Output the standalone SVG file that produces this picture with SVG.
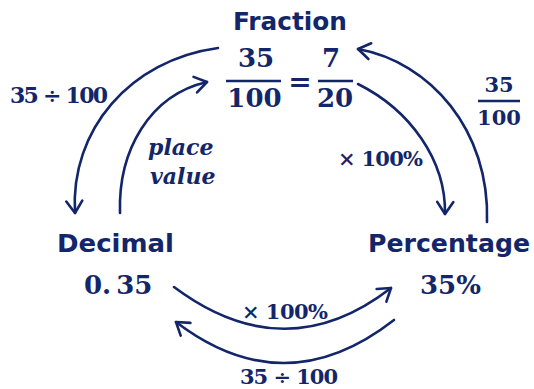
<svg xmlns="http://www.w3.org/2000/svg" width="534" height="389" viewBox="0 0 534 389">
<style>
.h{font-family:"DejaVu Sans","Liberation Sans",sans-serif;font-weight:bold;font-size:25px;fill:#13266a}
.m{font-family:"DejaVu Serif","Liberation Serif",serif;font-weight:bold;fill:#13266a}
.it{font-style:italic}
.c{fill:none;stroke:#13266a;stroke-width:2.6;stroke-linecap:round}
.bar{stroke:#13266a;stroke-width:2.6}
</style>
<defs>
<marker id="ah" viewBox="-15 -10 17 20" refX="0" refY="0" markerWidth="17" markerHeight="20" markerUnits="userSpaceOnUse" orient="auto">
<path d="M-12,-8 L0,0 L-12,8" fill="none" stroke="#13266a" stroke-width="2.6" stroke-linecap="round" stroke-linejoin="round"/>
</marker>
</defs>
<g id="connectors">
<path class="c" d="M218,48 C130,60 70,130 75,213" marker-end="url(#ah)"/>
<path class="c" d="M120,213 C118,150 150,95 207,82" marker-end="url(#ah)"/>
<path class="c" d="M487,222 C490,130 430,62 358,49" marker-end="url(#ah)"/>
<path class="c" d="M358,84 C410,110 446,160 445,214" marker-end="url(#ah)"/>
<path class="c" d="M174,287 Q285,370 391,288" marker-end="url(#ah)"/>
<path class="c" d="M394,320 Q285,405 176,322" marker-end="url(#ah)"/>
</g>
<g id="fraction">
<text class="h" x="290" y="30" text-anchor="middle" textLength="114" lengthAdjust="spacingAndGlyphs">Fraction</text>
<text class="m" x="256" y="67" font-size="26" text-anchor="middle">35</text>
<line class="bar" x1="226" y1="81" x2="281" y2="81"/>
<text class="m" x="254.5" y="107" font-size="26" text-anchor="middle">100</text>
<text class="m" x="300" y="91" font-size="28" text-anchor="middle">=</text>
<text class="m" x="331" y="67" font-size="26" text-anchor="middle">7</text>
<line class="bar" x1="318" y1="81" x2="353" y2="81"/>
<text class="m" x="335" y="107" font-size="26" text-anchor="middle">20</text>
</g>
<g id="decimal">
<text class="h" x="57" y="252" textLength="117" lengthAdjust="spacingAndGlyphs">Decimal</text>
<text class="m" x="84" y="294" font-size="26">0.<tspan dx="5">35</tspan></text>
</g>
<g id="percentage">
<text class="h" x="368" y="252" textLength="162" lengthAdjust="spacingAndGlyphs">Percentage</text>
<text class="m" x="420" y="294" font-size="26">35%</text>
</g>
<g id="labels">
<text class="m" x="10" y="103" font-size="22" textLength="98" lengthAdjust="spacing">35 ÷ 100</text>
<text class="m it" x="148" y="155" font-size="22">place</text>
<text class="m it" x="150" y="184" font-size="22">value</text>
<text class="m" x="338" y="166" font-size="21" textLength="85" lengthAdjust="spacing">× 100%</text>
<text class="m" x="499" y="92" font-size="21" text-anchor="middle">35</text>
<line class="bar" x1="478" y1="101" x2="520" y2="101"/>
<text class="m" x="499" y="125" font-size="21" text-anchor="middle">100</text>
<text class="m" x="242" y="319" font-size="21" textLength="86" lengthAdjust="spacing">× 100%</text>
<text class="m" x="240" y="384" font-size="21" textLength="98" lengthAdjust="spacing">35 ÷ 100</text>
</g>
</svg>
